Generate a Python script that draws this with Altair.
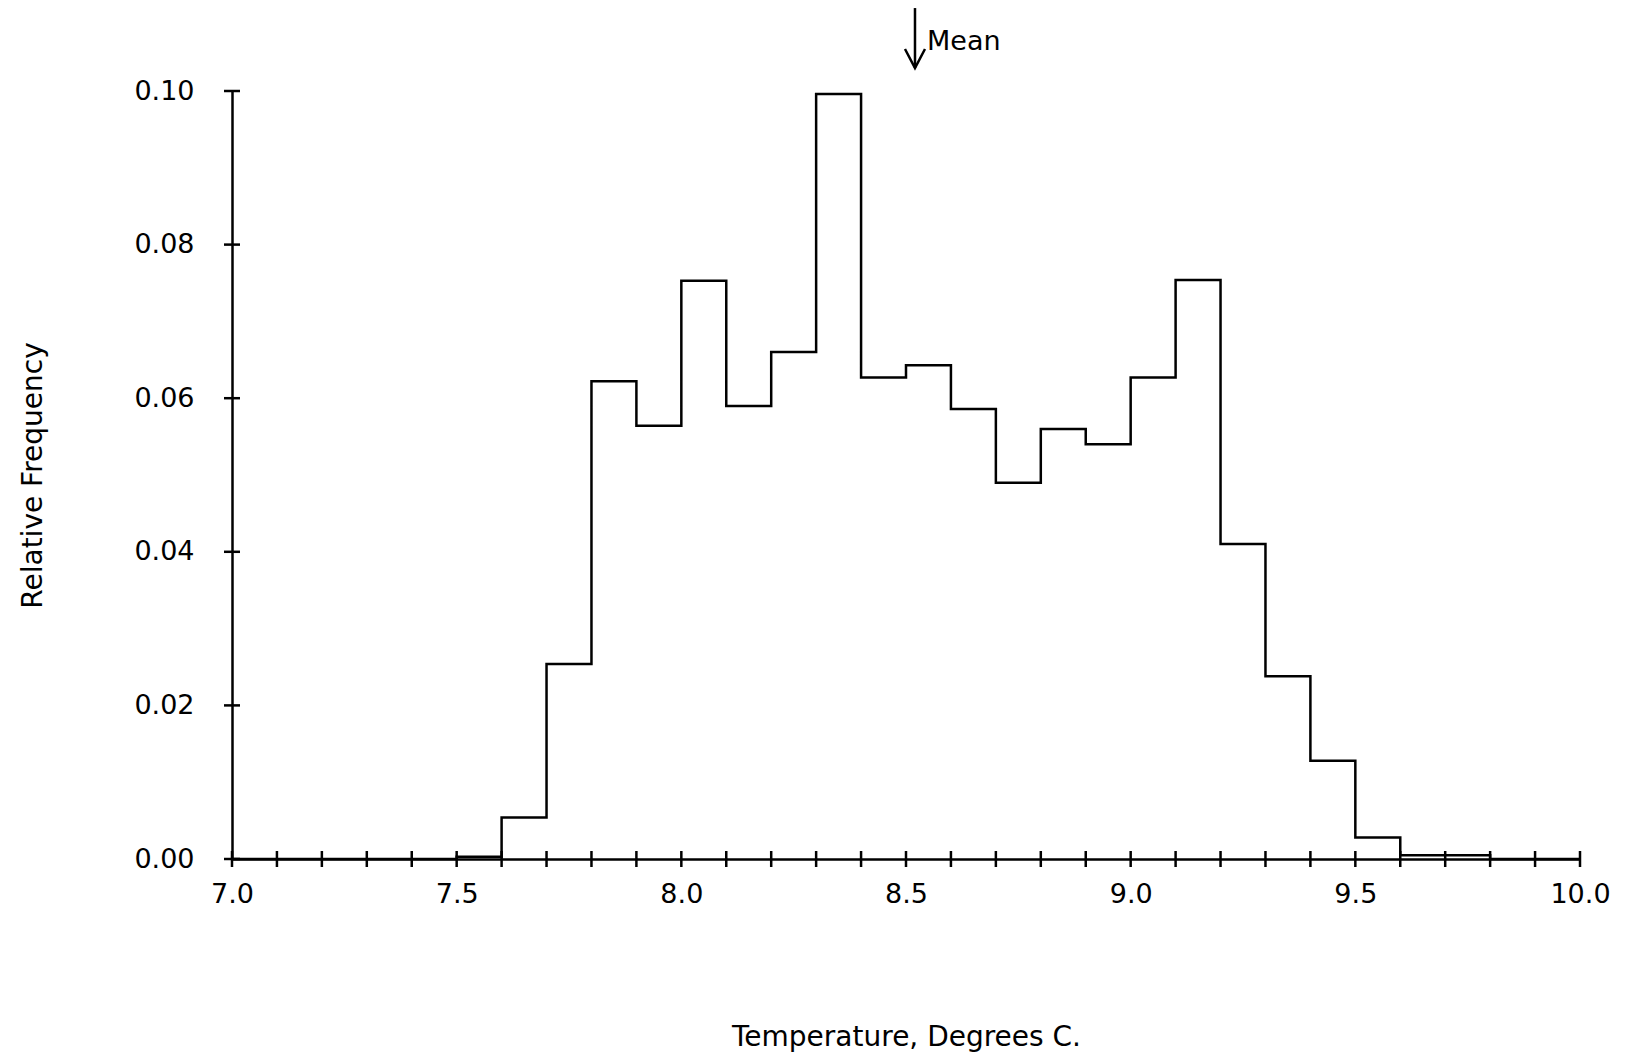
import altair as alt
import pandas as pd

# Histogram of temperatures: bin starts (0.1 C bins) and relative frequencies
bin_starts = [7.0, 7.1, 7.2, 7.3, 7.4, 7.5, 7.6, 7.7, 7.8, 7.9,
              8.0, 8.1, 8.2, 8.3, 8.4, 8.5, 8.6, 8.7, 8.8, 8.9,
              9.0, 9.1, 9.2, 9.3, 9.4, 9.5, 9.6, 9.7, 9.8, 9.9]
freqs = [0.0, 0.0, 0.0, 0.0, 0.0, 0.0003, 0.0054, 0.0254, 0.0622, 0.0564,
         0.0753, 0.0590, 0.0660, 0.0996, 0.0627, 0.0643, 0.0586, 0.0490, 0.0560, 0.0540,
         0.0627, 0.0754, 0.0410, 0.0238, 0.0128, 0.0028, 0.0005, 0.0005, 0.0, 0.0]
last_edge = 10.0

x_tick_values = [7.0, 7.1, 7.2, 7.3, 7.4, 7.5, 7.6, 7.7, 7.8, 7.9,
                 8.0, 8.1, 8.2, 8.3, 8.4, 8.5, 8.6, 8.7, 8.8, 8.9,
                 9.0, 9.1, 9.2, 9.3, 9.4, 9.5, 9.6, 9.7, 9.8, 9.9, 10.0]
x_label_values = [7.0, 7.5, 8.0, 8.5, 9.0, 9.5, 10.0]
y_tick_values = [0.0, 0.02, 0.04, 0.06, 0.08, 0.10]

mean_value = 8.52
mean_arrow_top = 0.1108
mean_arrow_tip = 0.1030
mean_label_y = 0.1064

FONT = "DejaVu Sans"

outline = pd.DataFrame({"x": bin_starts + [last_edge], "y": freqs + [0.0]})
xticks_df = pd.DataFrame({"t": x_tick_values})
yticks_df = pd.DataFrame({"t": y_tick_values})

xs = alt.Scale(domain=[7.0, 10.0], nice=False, zero=False)
ys = alt.Scale(domain=[0.0, 0.10], nice=False)

x_axis = alt.Axis(values=x_label_values, format=".1f", ticks=False, tickSize=0,
                  grid=False, domainColor="black", domainWidth=2.5,
                  labelFont=FONT, labelFontSize=27, labelColor="black", labelPadding=22,
                  title="Temperature, Degrees C.", titleFont=FONT, titleFontSize=28,
                  titleFontWeight="normal", titleColor="black", titlePadding=116,
                  labelFlush=False)
y_axis = alt.Axis(values=y_tick_values, format=".2f", ticks=False, tickSize=0,
                  grid=False, domainColor="black", domainWidth=2.5,
                  labelFont=FONT, labelFontSize=27, labelColor="black", labelPadding=38,
                  title="Relative Frequency", titleFont=FONT, titleFontSize=28,
                  titleFontWeight="normal", titleColor="black", titlePadding=86,
                  labelFlush=False)

hist = alt.Chart(outline).mark_line(
    interpolate="step-after", color="black", strokeWidth=2.5
).encode(
    x=alt.X("x:Q", scale=xs, axis=x_axis),
    y=alt.Y("y:Q", scale=ys, axis=y_axis),
)

xticks = alt.Chart(xticks_df).mark_rule(
    color="black", strokeWidth=2.5, yOffset=-8, y2Offset=8
).encode(
    x=alt.X("t:Q", scale=xs),
    y=alt.datum(0.0),
    y2=alt.datum(0.0),
)

yticks = alt.Chart(yticks_df).mark_rule(
    color="black", strokeWidth=2.5, xOffset=-8, x2Offset=8
).encode(
    y=alt.Y("t:Q", scale=ys),
    x=alt.datum(7.0),
    x2=alt.datum(7.0),
)

shaft = alt.Chart(pd.DataFrame({"m": [mean_value]})).mark_rule(
    color="black", strokeWidth=2.5
).encode(
    x=alt.X("m:Q", scale=xs),
    y=alt.datum(mean_arrow_top),
    y2=alt.datum(mean_arrow_tip),
)

head = alt.Chart(pd.DataFrame({"m": [mean_value], "v": [mean_arrow_tip]})).mark_point(
    shape="M-1,-1.9L0,0L1,-1.9", filled=False, stroke="black", strokeWidth=2.5,
    size=400, opacity=1
).encode(
    x=alt.X("m:Q", scale=xs),
    y=alt.Y("v:Q", scale=ys),
)

mean_text = alt.Chart(pd.DataFrame({"m": [mean_value], "v": [mean_label_y], "s": ["Mean"]})).mark_text(
    align="left", baseline="middle", dx=12, font=FONT, fontSize=27, color="black"
).encode(
    x=alt.X("m:Q", scale=xs),
    y=alt.Y("v:Q", scale=ys),
    text="s:N",
)

chart = alt.layer(hist, xticks, yticks, shaft, head, mean_text).properties(
    width=1348, height=768,
    padding={"left": 224, "top": 83, "right": 40, "bottom": 230},
    autosize=alt.AutoSizeParams(type="none"),
    background="white",
).configure_view(stroke=None)

chart.save("out.html", embed_options={"renderer": "svg", "actions": False})
